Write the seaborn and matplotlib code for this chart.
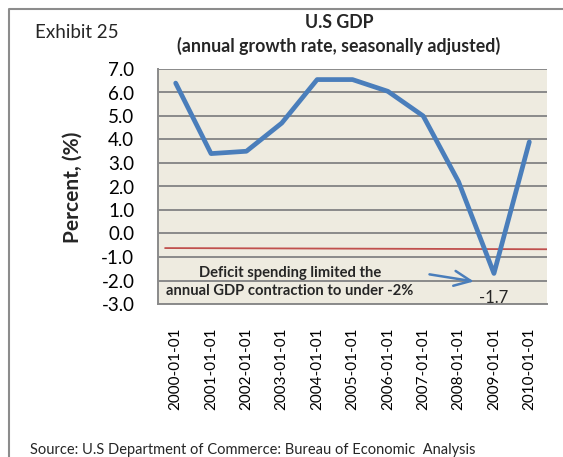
import matplotlib
matplotlib.use("Agg")
import matplotlib.pyplot as plt
from matplotlib.lines import Line2D
import seaborn as sns
import pandas as pd

# US real GDP annual growth, seasonally adjusted (percent)
dates = ["2000-01-01", "2001-01-01", "2002-01-01", "2003-01-01", "2004-01-01",
         "2005-01-01", "2006-01-01", "2007-01-01", "2008-01-01", "2009-01-01",
         "2010-01-01"]
growth = [6.4, 3.4, 3.5, 4.7, 6.55, 6.55, 6.05, 5.0, 2.2, -1.7, 3.9]
y_ticks = [7.0, 6.0, 5.0, 4.0, 3.0, 2.0, 1.0, 0.0, -1.0, -2.0, -3.0]
reference_level = [-0.62, -0.67]   # red guide line, left and right ends

sns.set_theme(style="white")
plt.rcParams["font.family"] = ["Lato", "DejaVu Sans"]

W, H = 563, 457
fig = plt.figure(figsize=(W / 100, H / 100), dpi=100)
fig.patch.set_facecolor("white")

ax = fig.add_axes([158 / W, 1 - 304 / H, (547 - 158) / W, (304 - 69) / H])
ax.set_facecolor("#EEEBE0")

df = pd.DataFrame({"pos": range(len(dates)), "growth": growth})

ax.set_xlim(-0.5, len(dates) - 0.5)
ax.set_ylim(-3, 7)
ax.set_yticks(y_ticks)
ax.set_yticklabels([f"{v:.1f}" for v in y_ticks])
ax.set_xticks(range(len(dates)))
ax.set_xticklabels(dates, rotation=90)
ax.grid(axis="y", color="#8A8A8A", linewidth=1.4)
ax.set_axisbelow(True)
for side in ["top", "right"]:
    ax.spines[side].set_visible(False)
for side in ["left", "bottom"]:
    ax.spines[side].set_color("#8A8A8A")
    ax.spines[side].set_linewidth(1.4)
ax.tick_params(axis="y", length=0, pad=17, labelsize=13.5, colors="black")
ax.tick_params(axis="x", length=0, pad=17, labelsize=11, colors="black")

# red guide line across the plot
ax.plot([-0.3, len(dates) - 0.5], reference_level, color="#C0504D", linewidth=1.3, zorder=2)

sns.lineplot(data=df, x="pos", y="growth", ax=ax, color="#4A7EBB",
             linewidth=3.4, solid_capstyle="round", solid_joinstyle="round", zorder=3)
ax.set_xlabel("")
ax.set_ylabel("")

# value label for the trough
trough = growth.index(min(growth))
ax.annotate(f"{growth[trough]:.1f}", (trough, growth[trough]), xytext=(0, -18),
            textcoords="offset points", ha="center", va="center", fontsize=12)

# callout text and arrow
ax.text(3.23, -2.06, "Deficit spending limited the\nannual GDP contraction to under -2%",
        ha="center", va="center", fontsize=10.6, fontweight="bold", linespacing=1.3)
ax.annotate("", xy=(8.51, -2.06), xytext=(7.1, -1.72),
            arrowprops=dict(arrowstyle="->,head_length=1.0,head_width=0.45",
                            color="#4A7EBB", linewidth=1.8))

# titles and labels
fig.text(339 / W, 1 - 23 / H, "U.S GDP", ha="center", va="center",
         fontsize=12.8, fontweight="bold")
fig.text(339 / W, 1 - 46 / H, "(annual growth rate, seasonally adjusted)", ha="center",
         va="center", fontsize=12.8, fontweight="bold")
fig.text(35 / W, 1 - 32 / H, "Exhibit 25", ha="left", va="center", fontsize=13.5)
fig.text(73 / W, 1 - 187 / H, "Percent, (%)", ha="center", va="center", rotation=90,
         fontsize=15, fontweight="bold")
fig.text(30 / W, 1 - 450 / H, "Source: U.S Department of Commerce: Bureau of Economic  Analysis",
         ha="left", va="center", fontsize=10.5)

# outer frame
fig.add_artist(Line2D([9 / W, 9 / W, 1], [0, 1 - 9 / H, 1 - 9 / H],
                      transform=fig.transFigure, color="#8C8C8C", linewidth=1.5))

fig.savefig("out.png", dpi=100)
